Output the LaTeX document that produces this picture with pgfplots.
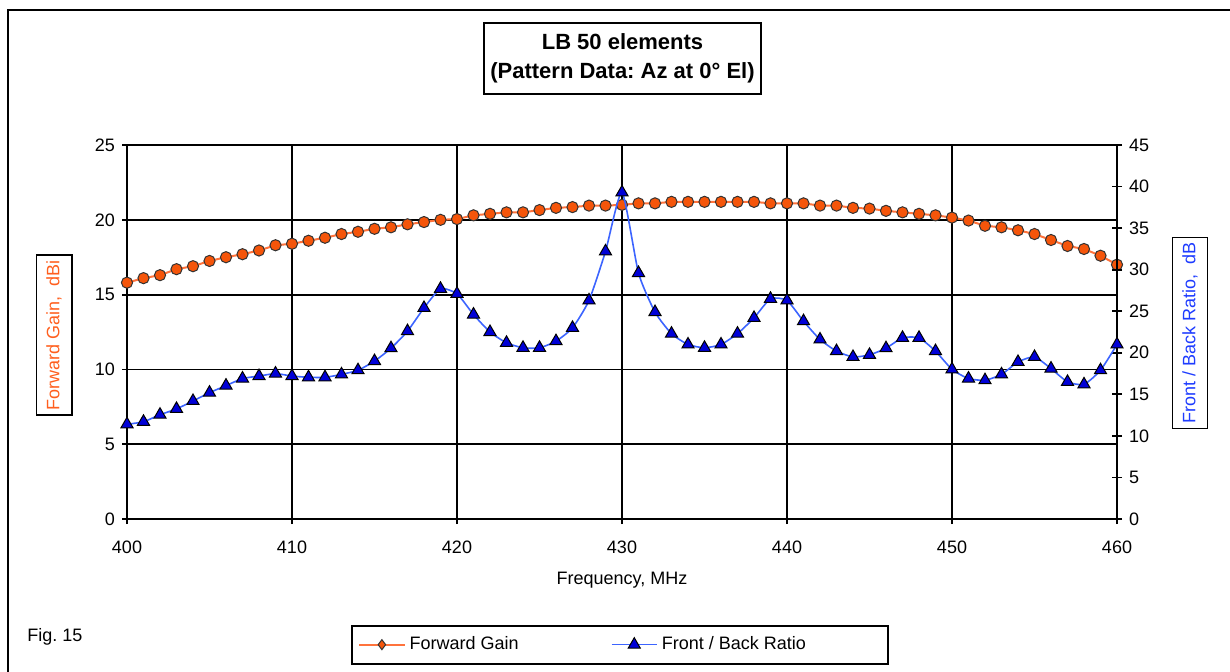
\documentclass[border=0pt]{standalone}
\usepackage{pgfplots}
\pgfplotsset{compat=1.18}
\usepackage{fontspec}
\setmainfont{Liberation Sans}
\frenchspacing
\definecolor{gainline}{RGB}{255,115,60}
\definecolor{gainfill}{RGB}{245,85,10}
\definecolor{fbline}{RGB}{60,100,255}
\definecolor{fbfill}{RGB}{0,0,215}
\definecolor{gainlabel}{RGB}{255,95,30}
\definecolor{fblabel}{RGB}{30,60,255}

\pgfplotstableread{
f g
400 15.8
401 16.1
402 16.3
403 16.7
404 16.9
405 17.25
406 17.5
407 17.7
408 17.95
409 18.3
410 18.4
411 18.6
412 18.8
413 19.05
414 19.2
415 19.4
416 19.5
417 19.7
418 19.85
419 20.0
420 20.05
421 20.3
422 20.4
423 20.5
424 20.5
425 20.65
426 20.8
427 20.85
428 20.95
429 20.95
430 21.0
431 21.1
432 21.1
433 21.2
434 21.2
435 21.2
436 21.2
437 21.2
438 21.2
439 21.1
440 21.1
441 21.1
442 20.95
443 20.95
444 20.8
445 20.75
446 20.6
447 20.5
448 20.4
449 20.3
450 20.15
451 19.95
452 19.6
453 19.5
454 19.3
455 19.05
456 18.65
457 18.25
458 18.05
459 17.6
460 17.0
}\gaintable

\pgfplotstableread{
f r
400 11.4
401 11.7
402 12.55
403 13.25
404 14.2
405 15.2
406 16.05
407 16.9
408 17.2
409 17.5
410 17.2
411 17.05
412 17.05
413 17.4
414 17.9
415 19.0
416 20.55
417 22.6
418 25.4
419 27.7
420 27.1
421 24.6
422 22.5
423 21.2
424 20.6
425 20.6
426 21.4
427 23.0
428 26.3
429 32.2
430 39.3
431 29.6
432 24.9
433 22.3
434 21.0
435 20.6
436 21.0
437 22.3
438 24.2
439 26.5
440 26.3
441 23.8
442 21.6
443 20.2
444 19.5
445 19.75
446 20.55
447 21.8
448 21.8
449 20.2
450 18.0
451 16.9
452 16.7
453 17.4
454 18.9
455 19.5
456 18.1
457 16.5
458 16.2
459 17.9
460 21.0
}\fbtable

\begin{document}
\begin{tikzpicture}
\begin{scope}[x=0.5pt,y=-0.5pt]
\useasboundingbox (0,0) rectangle (1230,671);
\draw[line width=1pt] (8,10) rectangle (1300,720);
\coordinate (LL) at (127,519);
\node[draw, line width=0.8pt, font=\bfseries\fontsize{11}{14.5}\selectfont, align=center,
      minimum width=138.5pt, minimum height=35.5pt, inner sep=0pt] at (622.5,58.5)
      {LB 50 elements\\(Pattern Data: Az at 0° El)};
\node[anchor=west, font=\fontsize{9}{10}\selectfont, inner sep=0pt] at (27,637) {Fig. 15};
\end{scope}

\pgfplotsset{
  common/.style={
    at={(LL)}, anchor=south west, scale only axis, width=495pt, height=187pt,
    xmin=400, xmax=460,
    axis line style={black, line width=0.9pt},
    tick style={black, line width=0.9pt}, major tick length=5pt, tick align=center,
    ticklabel style={font=\fontsize{9}{10}\selectfont},
    /pgf/number format/assume math mode=true,
  }
}

\begin{axis}[common,
  ymin=0, ymax=25,
  xtick={400,410,...,460}, ytick={0,5,...,25},
  xtick pos=bottom, ytick pos=left,
  xticklabel style={yshift=-5pt},
  grid=major, major grid style={black, line width=0.9pt},
  xlabel={Frequency, MHz}, ylabel={Forward Gain,\ \ dBi},
  every axis x label/.style={at={(axis description cs:0.5,-0.163)}, anchor=center, font=\fontsize{9}{10}\selectfont},
  every axis y label/.style={at={(axis description cs:-0.0737,0.492)}, anchor=center, rotate=90,
     draw=black, line width=0.8pt, text=gainlabel, inner xsep=2.5pt, inner ysep=5pt, font=\fontsize{9}{10}\selectfont},
]
\addplot[gainline, line width=1pt, mark=*, mark size=2.8pt,
  mark options={fill=gainfill, draw=black!80, line width=0.5pt}] table[x=f, y=g] {\gaintable};
\end{axis}

\begin{axis}[common,
  ymin=0, ymax=45, ytick={0,5,...,45},
  axis y line*=right, axis x line=none,
  ylabel={Front / Back Ratio,\ \ dB},
  every axis y label/.style={at={(axis description cs:1.0737,0.497)}, anchor=center, rotate=90,
     draw=black, line width=0.8pt, text=fblabel, inner xsep=2.5pt, inner ysep=5pt, font=\fontsize{9}{10}\selectfont},
  legend columns=2,
  legend style={at={(axis description cs:0.498,-0.336)}, anchor=center, draw=black, line width=0.9pt,
    font=\fontsize{9}{10}\selectfont, inner xsep=3pt, inner ysep=3.5pt,
    /tikz/every even column/.append style={column sep=44pt}},
  legend image code/.code={\draw[mark repeat=2, mark phase=2] plot coordinates {(0cm,0cm) (0.4cm,0cm) (0.8cm,0cm)};},
]
\addlegendimage{gainline, line width=1pt, mark=diamond*, mark size=2.5pt, mark options={fill=gainfill, draw=black!80, line width=0.5pt}}
\addlegendentry{Forward Gain}
\addplot[fbline, line width=0.8pt, smooth, tension=0.35, mark=triangle*, mark size=3.5pt,
  mark options={fill=fbfill, draw=black, line width=0.5pt}] table[x=f, y=r] {\fbtable};
\addlegendentry{Front / Back Ratio\rule{36pt}{0pt}}
\end{axis}
\end{tikzpicture}
\end{document}
